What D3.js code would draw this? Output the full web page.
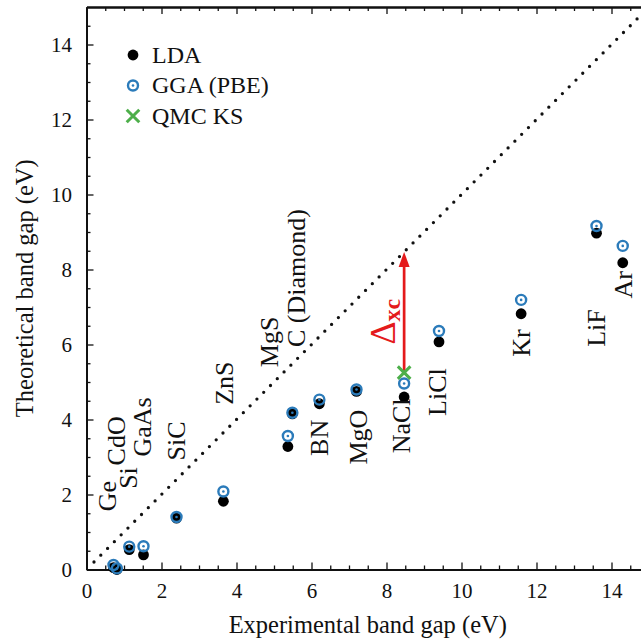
<!DOCTYPE html>
<html>
<head>
<meta charset="utf-8">
<script src="https://cdn.jsdelivr.net/npm/d3@7"></script>
<style>
  body { margin: 0; background: #fff; }
  svg, svg text { font-family: "Liberation Serif", serif !important; }
</style>
</head>
<body>
<div id="chart"></div>
<script>
// band gaps (eV)
const materials = ["Ge", "CdO", "Si", "GaAs", "SiC", "ZnS", "MgS", "C (Diamond)", "BN",
                   "MgO", "NaCl", "LiCl", "Kr", "LiF", "Ar"];
const expGap = [0.72, 0.81, 1.14, 1.52, 2.40, 3.65, 5.37, 5.49, 6.21, 7.20, 8.47, 9.40, 11.59, 13.60, 14.30];
const ldaGap = [0.05, 0.00, 0.53, 0.39, 1.37, 1.82, 3.28, 4.15, 4.42, 4.75, 4.60, 6.07, 6.82, 8.97, 8.18];
const ggaGap = [0.12, 0.03, 0.61, 0.62, 1.40, 2.08, 3.56, 4.18, 4.53, 4.80, 4.96, 6.36, 7.19, 9.16, 8.63];
const qmcExp = [8.47];
const qmcGap = [5.25];
const diagonal = [[0.2, 0.2], [15, 15]];
const majorTicks = [0, 2, 4, 6, 8, 10, 12, 14];
const minorTicks = d3.range(0.5, 15, 0.5).filter(v => v % 2 !== 0);

// where the rotated labels sit, in data units
const labelAt = [[0.55, 1.96], [0.79, 3.43], [1.12, 2.44], [1.48, 3.80], [2.41, 3.43], [3.67, 4.97],
                 [4.89, 6.07], [5.61, 7.77], [6.20, 3.51], [7.24, 3.53], [8.41, 3.83], [9.37, 4.73],
                 [11.61, 6.04], [13.61, 6.44], [14.31, 7.59]];

const width = 641, height = 642;
const blue = "#2b7bba", green = "#4daf4a", red = "#e41a1c";
const serif = '"Liberation Serif", serif';

const svg = d3.select("#chart")
    .append("svg")
    .attr("width", width)
    .attr("height", height)
    .attr("font-family", serif);

const x = d3.scaleLinear().domain([0, 15]).range([86.5, 649]);
const y = d3.scaleLinear().domain([0, 15]).range([569.5, 7]);

// axes, ticks pointing inward
function styleAxis(g) {
    g.attr("font-family", serif).attr("font-size", 21);
    g.select(".domain").attr("stroke", "#111").attr("stroke-width", 2);
    g.selectAll(".tick line").attr("stroke", "#111").attr("stroke-width", 1.3);
    g.selectAll(".tick text").attr("fill", "#111");
}

svg.append("g")
    .attr("transform", `translate(0,${y(0)})`)
    .call(d3.axisBottom(x).tickValues(majorTicks).tickSizeInner(-7).tickSizeOuter(0).tickPadding(13.5))
    .call(styleAxis);
svg.append("g")
    .attr("transform", `translate(0,${y(0)})`)
    .call(d3.axisBottom(x).tickValues(minorTicks).tickSizeInner(-4).tickSizeOuter(0).tickFormat(""))
    .call(styleAxis);
svg.append("g")
    .attr("transform", `translate(${x(0)},0)`)
    .call(d3.axisLeft(y).tickValues(majorTicks).tickSizeInner(-7).tickSizeOuter(0).tickPadding(14.5))
    .call(styleAxis);
svg.append("g")
    .attr("transform", `translate(${x(0)},0)`)
    .call(d3.axisLeft(y).tickValues(minorTicks).tickSizeInner(-4).tickSizeOuter(0).tickFormat(""))
    .call(styleAxis);
svg.append("g")
    .attr("transform", `translate(0,${y(15)})`)
    .call(d3.axisTop(x).tickValues(majorTicks).tickSizeInner(-7).tickSizeOuter(0).tickFormat(""))
    .call(styleAxis);
svg.append("g")
    .attr("transform", `translate(0,${y(15)})`)
    .call(d3.axisTop(x).tickValues(minorTicks).tickSizeInner(-4).tickSizeOuter(0).tickFormat(""))
    .call(styleAxis);

// axis titles
svg.append("text")
    .attr("x", (x(0) + x(15)) / 2)
    .attr("y", 633)
    .attr("text-anchor", "middle")
    .attr("font-size", 24.5)
    .attr("fill", "#111")
    .text("Experimental band gap (eV)");
svg.append("text")
    .attr("transform", `translate(33,${(y(0) + y(15)) / 2}) rotate(-90)`)
    .attr("text-anchor", "middle")
    .attr("font-size", 24.5)
    .attr("fill", "#111")
    .text("Theoretical band gap (eV)");

// y = x reference
svg.append("path")
    .datum(diagonal)
    .attr("d", d3.line().x(d => x(d[0])).y(d => y(d[1])))
    .attr("fill", "none")
    .attr("stroke", "#111")
    .attr("stroke-width", 3.3)
    .attr("stroke-linecap", "round")
    .attr("stroke-dasharray", "0 9.6");

// LDA
svg.append("g").selectAll("circle")
    .data(expGap)
    .join("circle")
    .attr("cx", d => x(d))
    .attr("cy", (d, i) => y(ldaGap[i]))
    .attr("r", 5.4)
    .attr("fill", "#000");

// GGA (PBE): ring with a dot
const gga = svg.append("g").selectAll("g")
    .data(expGap)
    .join("g")
    .attr("transform", (d, i) => `translate(${x(d)},${y(ggaGap[i])})`);
gga.append("circle").attr("r", 5).attr("fill", "none").attr("stroke", blue).attr("stroke-width", 2.4);
gga.append("circle").attr("r", 1.3).attr("fill", blue);

// QMC KS cross
function cross(g, s) {
    g.append("path")
        .attr("d", `M${-s},${-s}L${s},${s}M${-s},${s}L${s},${-s}`)
        .attr("stroke", green)
        .attr("stroke-width", 3)
        .attr("fill", "none");
}

// Delta_xc arrow from QMC KS gap up to the diagonal
const ax = x(qmcExp[0]);
const y0 = y(qmcGap[0]), y1 = y(qmcExp[0]);
svg.append("line")
    .attr("x1", ax).attr("x2", ax)
    .attr("y1", y0).attr("y2", y1 + 12)
    .attr("stroke", red)
    .attr("stroke-width", 2.7);
svg.append("path")
    .attr("d", `M${ax},${y1}L${ax - 5.5},${y1 + 15}L${ax + 5.5},${y1 + 15}Z`)
    .attr("fill", red);

svg.append("g").selectAll("g")
    .data(qmcExp)
    .join("g")
    .attr("transform", (d, i) => `translate(${x(d)},${y(qmcGap[i])})`)
    .each(function() { cross(d3.select(this), 6.3); });

const dxc = svg.append("text")
    .attr("transform", `translate(${x(8.23)},${y(6.61)}) rotate(-90)`)
    .attr("text-anchor", "middle")
    .attr("fill", red);
dxc.append("tspan").attr("font-size", 36).text("\u0394");
dxc.append("tspan").attr("dy", 5).attr("font-size", 24).attr("font-weight", "bold").text("xc");

// material labels
svg.append("g").selectAll("text")
    .data(materials)
    .join("text")
    .attr("transform", (d, i) => `translate(${x(labelAt[i][0])},${y(labelAt[i][1])}) rotate(-90)`)
    .attr("text-anchor", "middle")
    .attr("dy", "0.33em")
    .attr("font-size", 26)
    .attr("fill", "#111")
    .text(d => d);

// legend
const legend = svg.append("g").attr("transform", "translate(133,55)");
legend.append("circle").attr("cx", 0).attr("cy", 0).attr("r", 5.4).attr("fill", "#000");
const lg = legend.append("g").attr("transform", "translate(0,30.5)");
lg.append("circle").attr("r", 5).attr("fill", "none").attr("stroke", blue).attr("stroke-width", 2.4);
lg.append("circle").attr("r", 1.3).attr("fill", blue);
cross(legend.append("g").attr("transform", "translate(0,61)"), 6.3);
["LDA", "GGA (PBE)", "QMC KS"].forEach((t, i) => {
    legend.append("text")
        .attr("x", 19)
        .attr("y", i * 30.5)
        .attr("dy", "0.33em")
        .attr("font-size", 24)
        .attr("fill", "#111")
        .text(t);
});
</script>
</body>
</html>
